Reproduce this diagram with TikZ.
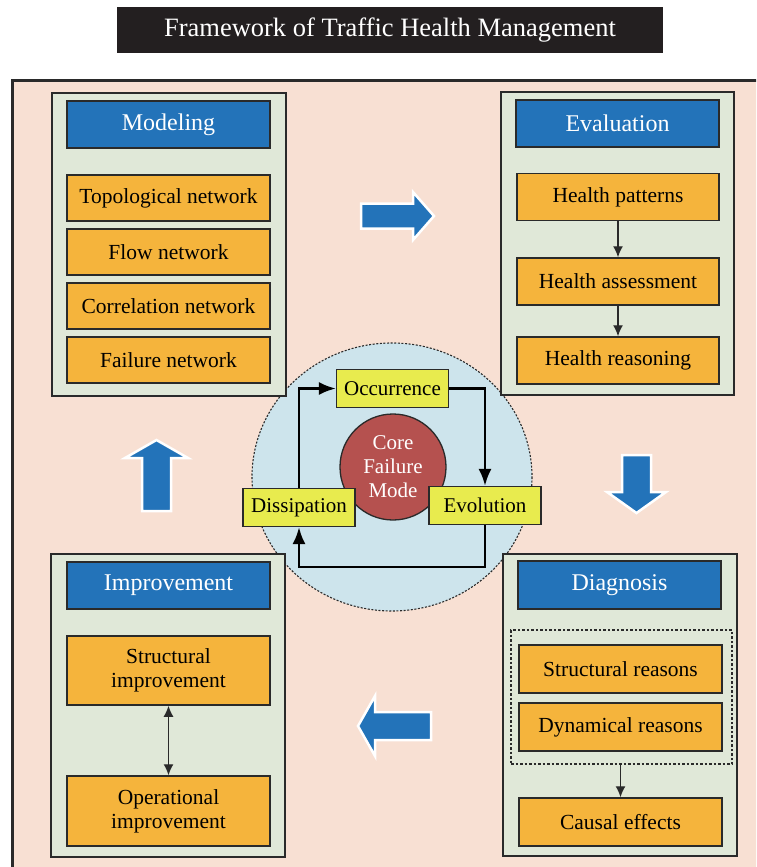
\documentclass[tikz,border=0pt]{standalone}
\usepackage{fontspec}
\setmainfont{Liberation Serif}
\usetikzlibrary{arrows.meta}
\definecolor{peach}{HTML}{F8E0D3}
\definecolor{pgreen}{HTML}{E0E8D8}
\definecolor{hblue}{HTML}{2373B9}
\definecolor{orng}{HTML}{F5B43C}
\definecolor{yel}{HTML}{E8EB4E}
\definecolor{cred}{HTML}{B5514F}
\definecolor{lblue}{HTML}{CDE4EC}
\definecolor{bd}{HTML}{2A2A2A}
\definecolor{ttl}{HTML}{231F20}
\begin{document}
\begin{tikzpicture}[x=1pt,y=-1pt,
  panel/.style={draw=bd, fill=pgreen, line width=1.8pt, inner sep=0pt, minimum width=234pt, minimum height=303pt},
  headbox/.style={draw=bd, fill=hblue, line width=1.5pt, text=white, font=\fontsize{24}{26}\selectfont, minimum width=203pt, minimum height=47pt, inner sep=0pt},
  itembox/.style={draw=bd, fill=orng, line width=1.5pt, font=\fontsize{21.5}{24}\selectfont, minimum width=203pt, minimum height=47pt, inner sep=0pt, align=center},
  cycbox/.style={draw=bd, fill=yel, line width=1.2pt, font=\fontsize{21}{24}\selectfont, minimum width=112pt, minimum height=38pt, inner sep=0pt},
  bigarrow/.style={fill=hblue, draw=white, line width=2.5pt, line join=miter},
  loopline/.style={draw=black, line width=2.6pt, -{Latex[length=17pt,width=13pt]}},
  thinarrow/.style={draw=bd, line width=1.4pt, -{Latex[length=11pt,width=10pt]}}
]
\useasboundingbox (0,0) rectangle (756,867);
\fill[white] (0,0) rectangle (756,867);
% title
\node[fill=ttl, minimum width=546pt, minimum height=46pt, inner sep=0pt, text=white, font=\fontsize{26.5}{30}\selectfont] (title) at (390,30) {Framework of Traffic Health Management};
% outer frame
\begin{scope}
\clip (0,0) rectangle (756,867);
\draw[line width=3pt, draw=bd, fill=peach] (12,80) rectangle (790,900);
\end{scope}
% central circle
\draw[line width=1.1pt, draw=bd, fill=lblue, dash pattern=on 2pt off 1.6pt] (392,477) ellipse [x radius=140, y radius=134];
\node[circle, draw=bd, fill=cred, line width=1.3pt, minimum size=106pt, inner sep=0pt, text=white, align=center, font=\fontsize{21}{24}\selectfont] (core) at (393,467) {Core\\Failure\\Mode};
\node[cycbox] (occ) at (392.5,388.5) {Occurrence};
\node[cycbox] (diss) at (299,507.5) {Dissipation};
\node[cycbox] (evo) at (485,505.5) {Evolution};
\coordinate (lb) at (392,567);
\draw[loopline] (diss.north) |- (occ.west);
\draw[loopline] (occ.east) -| (evo.north);
\draw[loopline] (evo.south) |- (lb) -| (diss.south);
% Modeling
\node[panel] (modp) at (169,244.5) {};
\node[headbox] (modh) at (168.5,124.5) {Modeling};
\node[itembox, minimum height=46pt] (topo) at (168.5,198) {Topological network};
\node[itembox, minimum height=46pt] (flow) at (168.5,252) {Flow network};
\node[itembox, minimum height=46pt] (corr) at (168.5,306) {Correlation network};
\node[itembox, minimum height=46pt] (fail) at (168.5,360) {Failure network};
% Evaluation
\node[panel, minimum width=233pt] (evap) at (617.5,243.5) {};
\node[headbox] (evah) at (617.5,123.5) {Evaluation};
\node[itembox, minimum width=202pt] (pat) at (618,197) {Health patterns};
\node[itembox, minimum width=202pt] (ass) at (618,281.5) {Health assessment};
\node[itembox, minimum width=202pt] (rea) at (618,360.5) {Health reasoning};
\draw[thinarrow] (pat) -- (ass);
\draw[thinarrow] (ass) -- (rea);
% Diagnosis
\node[panel, minimum height=302pt] (diap) at (620,705) {};
\node[headbox, minimum height=48pt] (diah) at (619.5,585) {Diagnosis};
\node[draw=bd, line width=1.2pt, dash pattern=on 2.5pt off 2pt, minimum width=221pt, minimum height=134pt, inner sep=0pt] (reasons) at (621.5,697) {};
\node[itembox, minimum height=48pt] (sr) at (620.5,669) {Structural reasons};
\node[itembox, minimum height=48pt] (dr) at (620.5,727) {Dynamical reasons};
\node[itembox, minimum height=48pt] (ce) at (620.5,822) {Causal effects};
\draw[thinarrow] (reasons.south -| ce.north) -- (ce.north);
% Improvement
\node[panel] (impp) at (168,705.5) {};
\node[headbox] (imph) at (168.5,585.5) {Improvement};
\node[itembox, minimum height=69pt] (simp) at (168.5,670.5) {Structural\\improvement};
\node[itembox, minimum height=70pt] (oimp) at (168.5,811) {Operational\\improvement};
\draw[draw=bd, line width=1.4pt, {Latex[length=11pt,width=10pt]}-{Latex[length=11pt,width=10pt]}] (simp) -- (oimp);
% big arrows
\draw[bigarrow] (361,203.5) -- (413,203.5) -- (413,192) -- (434,216) -- (413,240) -- (413,228.5) -- (361,228.5) -- cycle;
\draw[bigarrow] (622,455) -- (651,455) -- (651,492) -- (666,492) -- (636.5,513) -- (607,492) -- (622,492) -- cycle;
\draw[bigarrow] (431,712) -- (375,712) -- (375,696) -- (358,726) -- (375,756) -- (375,740) -- (431,740) -- cycle;
\draw[bigarrow] (142,511) -- (142,458) -- (125,458) -- (156.5,440) -- (188,458) -- (171,458) -- (171,511) -- cycle;
\end{tikzpicture}
\end{document}
